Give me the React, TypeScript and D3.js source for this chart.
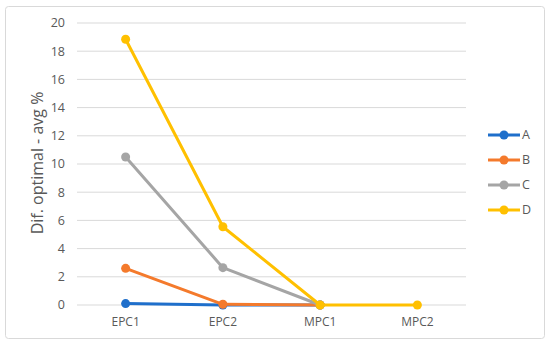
import { useEffect, useRef } from "react";
import * as d3 from "d3";

const categories = ["EPC1", "EPC2", "MPC1", "MPC2"];
const seriesNames = ["A", "B", "C", "D"];
const seriesA = [0.1, 0, 0, null];
const seriesB = [2.6, 0.05, 0, null];
const seriesC = [10.5, 2.65, 0, null];
const seriesD = [18.85, 5.55, 0, 0];
const yTicks = [0, 2, 4, 6, 8, 10, 12, 14, 16, 18, 20];
const colors = ["#1f6fcb", "#f47a2c", "#a5a5a5", "#ffc000"];

export default function App() {
  const svgRef = useRef<SVGSVGElement>(null);
  const width = 550;
  const height = 346;

  useEffect(() => {
    const svg = d3.select(svgRef.current);
    svg.selectAll("*").remove();
    const font = "'Open Sans', 'Liberation Sans', sans-serif";
    const textColor = "#595959";

    // chart border
    svg
      .append("rect")
      .attr("x", 5.5)
      .attr("y", 6.5)
      .attr("width", 539)
      .attr("height", 332)
      .attr("rx", 3)
      .attr("fill", "white")
      .attr("stroke", "#d9d9d9");

    const x = d3.scaleBand().domain(categories).range([77, 466]);
    const y = d3.scaleLinear().domain([0, 20]).range([305, 23]);

    // grid
    svg
      .selectAll(".grid")
      .data(yTicks)
      .enter()
      .append("line")
      .attr("x1", 77)
      .attr("x2", 466)
      .attr("y1", (d) => y(d))
      .attr("y2", (d) => y(d))
      .attr("stroke", "#d9d9d9")
      .attr("stroke-width", 1);

    svg
      .selectAll(".ylab")
      .data(yTicks)
      .enter()
      .append("text")
      .attr("x", 65)
      .attr("y", (d) => y(d))
      .attr("dy", "0.35em")
      .attr("text-anchor", "end")
      .attr("font-family", font)
      .attr("font-size", 12.5)
      .attr("fill", textColor)
      .text((d) => d);

    svg
      .selectAll(".xlab")
      .data(categories)
      .enter()
      .append("text")
      .attr("x", (d) => x(d)! + x.bandwidth() / 2)
      .attr("y", 322)
      .attr("dy", "0.35em")
      .attr("text-anchor", "middle")
      .attr("font-family", font)
      .attr("font-size", 12)
      .attr("fill", textColor)
      .text((d) => d);

    svg
      .append("text")
      .attr("transform", "translate(37,163) rotate(-90)")
      .attr("text-anchor", "middle")
      .attr("dy", "0.35em")
      .attr("font-family", font)
      .attr("font-size", 16)
      .attr("fill", textColor)
      .text("Dif. optimal - avg %");

    const allSeries = [seriesA, seriesB, seriesC, seriesD];
    const cx = (i: number) => x(categories[i])! + x.bandwidth() / 2;
    const line = d3
      .line<number | null>()
      .defined((d) => d !== null)
      .x((_, i) => cx(i))
      .y((d) => y(d as number));

    allSeries.forEach((s, k) => {
      svg
        .append("path")
        .attr("d", line(s))
        .attr("fill", "none")
        .attr("stroke", colors[k])
        .attr("stroke-width", 3)
        .attr("stroke-linejoin", "round");
      s.forEach((v, i) => {
        if (v === null) return;
        svg
          .append("circle")
          .attr("cx", cx(i))
          .attr("cy", y(v))
          .attr("r", 4.5)
          .attr("fill", colors[k]);
      });
    });

    // legend
    seriesNames.forEach((name, k) => {
      const ly = 135 + k * 25;
      svg
        .append("line")
        .attr("x1", 488)
        .attr("x2", 520)
        .attr("y1", ly)
        .attr("y2", ly)
        .attr("stroke", colors[k])
        .attr("stroke-width", 3);
      svg
        .append("circle")
        .attr("cx", 504)
        .attr("cy", ly)
        .attr("r", 4.5)
        .attr("fill", colors[k]);
      svg
        .append("text")
        .attr("x", 522)
        .attr("y", ly)
        .attr("dy", "0.35em")
        .attr("font-family", font)
        .attr("font-size", 12.5)
        .attr("fill", textColor)
        .text(name);
    });
  }, []);

  return (
    <svg
      ref={svgRef}
      width={width}
      height={height}
      style={{ position: "fixed", left: 0, top: 0, background: "white" }}
    ></svg>
  );
}
